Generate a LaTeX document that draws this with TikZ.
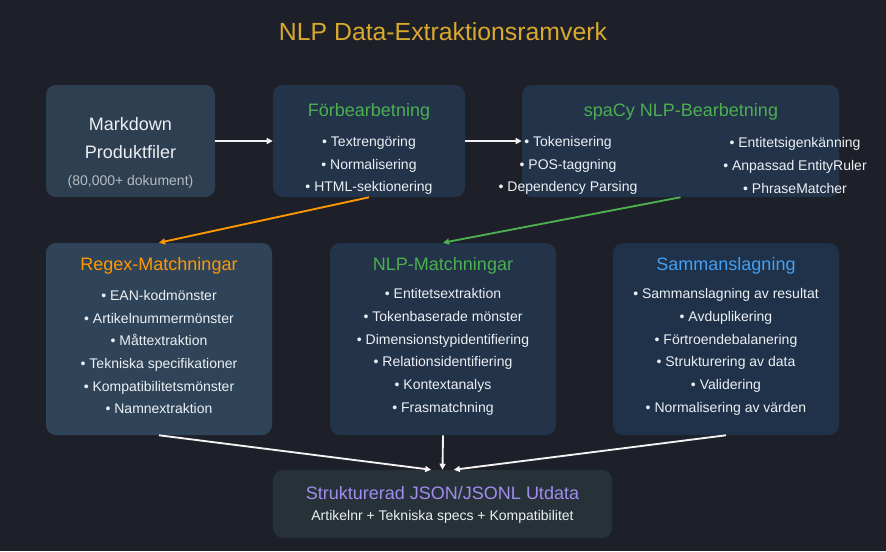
\documentclass[tikz,border=0pt]{standalone}
\usepackage{fontspec}
\setmainfont{Liberation Sans}
\usetikzlibrary{arrows.meta}

\definecolor{bg}{HTML}{1E2029}
\definecolor{gold}{HTML}{D9A92E}
\definecolor{cardlight}{HTML}{2E3F51}
\definecolor{cardmid}{HTML}{2F4459}
\definecolor{carddark}{HTML}{22334A}
\definecolor{cardblue}{HTML}{1F3249}
\definecolor{cardslate}{HTML}{263238}
\definecolor{orng}{HTML}{FF9800}
\definecolor{grn}{HTML}{4CAF50}
\definecolor{blu}{HTML}{42A0F5}
\definecolor{purp}{HTML}{A28CF0}
\definecolor{txt}{HTML}{ECF0F4}
\definecolor{dim}{HTML}{B4BCC4}
\definecolor{lnk}{HTML}{F2F2F2}

\begin{document}
\begin{tikzpicture}[x=0.75pt, y=-0.75pt,
		card/.style = {rounded corners=7.5pt, inner sep=0pt},
		head/.style = {font=\fontsize{13.5}{16}\selectfont},
		items/.style = {font=\fontsize{10.5}{17}\selectfont, text=txt, align=center},
		flow/.style = {-{Triangle[length=4.5pt,width=4.5pt]}, line width=1.4pt, draw=lnk},
	]
	\fill[bg] (0,0) rectangle (886,551);
	\node[text=gold, font=\fontsize{18.6}{22}\selectfont] (title) at (443,32) {NLP Data-Extraktionsramverk};

	% top row
	\node[card, fill=cardlight, minimum width=126.75pt, minimum height=84pt] (md) at (130.5,141) {};
	\node[head, text=txt, align=center, font=\fontsize{13.5}{21}\selectfont] (mdtxt) at (130.5,138) {Markdown\\Produktfiler};
	\node[items, text=dim] (mdsub) at (130.5,182) {(80,000+ dokument)};

	\node[card, fill=carddark, minimum width=144pt, minimum height=84pt] (pre) at (369,141) {};
	\node[head, text=grn] (prehead) at (369,112) {Förbearbetning};
	\node[items] (preitems) at (369,165.5) {• Textrengöring\\• Normalisering\\• HTML-sektionering};

	\node[card, fill=carddark, minimum width=237.75pt, minimum height=84pt] (spacy) at (680.5,141) {};
	\node[head, text=grn] (spacyhead) at (681,112) {spaCy NLP-Bearbetning};
	\node[items] (spacyleft) at (568,165.5) {• Tokenisering\\• POS-taggning\\• Dependency Parsing};
	\node[items] (spacyright) at (795,165.5) {• Entitetsigenkänning\\• Anpassad EntityRuler\\• PhraseMatcher};

	% middle row
	\node[card, fill=cardmid, minimum width=169.5pt, minimum height=144pt] (regex) at (159,339) {};
	\node[head, text=orng] (regexhead) at (159,266) {Regex-Matchningar};
	\node[items] (regexitems) at (159,352) {• EAN-kodmönster\\• Artikelnummermönster\\• Måttextraktion\\• Tekniska specifikationer\\• Kompatibilitetsmönster\\• Namnextraktion};

	\node[card, fill=carddark, minimum width=169.5pt, minimum height=144pt] (nlp) at (443,339) {};
	\node[head, text=grn] (nlphead) at (443,266) {NLP-Matchningar};
	\node[items] (nlpitems) at (443,352) {• Entitetsextraktion\\• Tokenbaserade mönster\\• Dimensionstypidentifiering\\• Relationsidentifiering\\• Kontextanalys\\• Frasmatchning};

	\node[card, fill=cardblue, minimum width=169.5pt, minimum height=144pt] (merge) at (726,339) {};
	\node[head, text=blu] (mergehead) at (726,266) {Sammanslagning};
	\node[items] (mergeitems) at (726,352) {• Sammanslagning av resultat\\• Avduplikering\\• Förtroendebalanering\\• Strukturering av data\\• Validering\\• Normalisering av värden};

	% output
	\node[card, fill=cardslate, minimum width=254.25pt, minimum height=51pt] (out) at (442.5,504) {};
	\node[head, text=purp] (outhead) at (442.5,493) {Strukturerad JSON/JSONL Utdata};
	\node[items] (outsub) at (442.5,517) {Artikelnr + Tekniska specs + Kompatibilitet};

	\coordinate (inL) at ([xshift=-8.5pt]out.north);
	\coordinate (inM) at (out.north);
	\coordinate (inR) at ([xshift=8.5pt]out.north);

	\draw[flow] (md.east) -- (pre.west);
	\draw[flow] (pre.east) -- (spacy.west);
	\draw[flow, draw=orng] (pre.south) -- (regex.north);
	\draw[flow, draw=grn] (spacy.south) -- (nlp.north);
	\draw[flow] (regex.south) -- (inL);
	\draw[flow] (nlp.south) -- (inM);
	\draw[flow] (merge.south) -- (inR);
\end{tikzpicture}
\end{document}
